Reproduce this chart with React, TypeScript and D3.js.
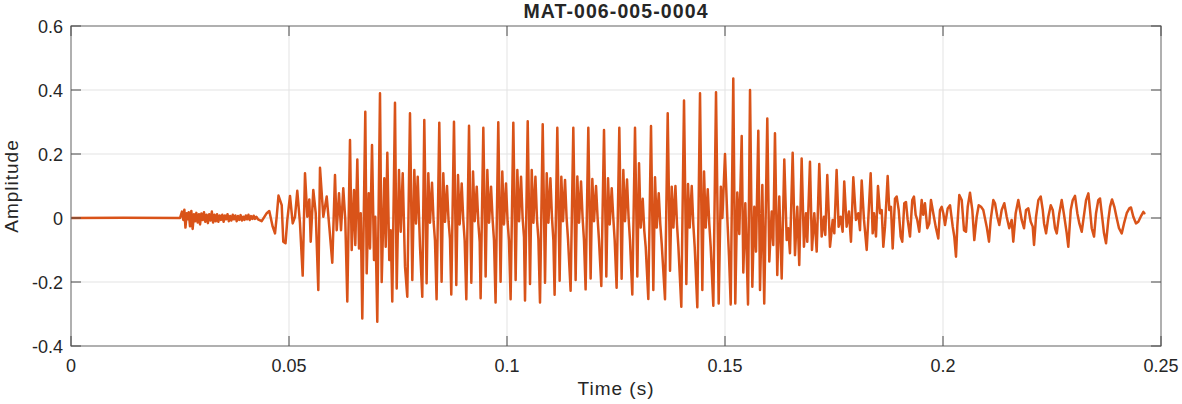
import React from 'react';
import * as d3 from 'd3';

// ---- axis ticks ----
const xTicks = [0, 0.05, 0.1, 0.15, 0.2, 0.25];
const xTickLabels = ['0', '0.05', '0.1', '0.15', '0.2', '0.25'];
const yTicks = [-0.4, -0.2, 0, 0.2, 0.4, 0.6];
const yTickLabels = ['-0.4', '-0.2', '0', '0.2', '0.4', '0.6'];

const titleText = 'MAT-006-005-0004';
const xLabelText = 'Time (s)';
const yLabelText = 'Amplitude';

// ---- waveform vertices: [time (ms), amplitude] ----
const silence: [number, number][] = [
  [0, 0], [12.0, 0.0005], [25.0, 0],
];

const onsetNoise: [number, number][] = [
  [25.45, 0.02], [25.75, -0.006], [26.0, 0.026], [26.25, -0.03], [26.55, 0.015], [26.8, -0.004],
  [27.0, 0.018], [27.3, -0.026], [27.6, 0.022], [27.9, -0.034], [28.2, 0.012], [28.45, -0.01],
  [28.75, 0.016], [29.05, -0.014], [29.35, 0.012], [29.6, -0.02], [29.9, 0.014], [30.2, -0.006],
  [30.5, 0.018], [30.8, -0.012], [31.1, 0.01], [31.4, -0.016], [31.7, 0.012], [32.0, -0.008],
  [32.3, 0.02], [32.6, -0.014], [32.9, 0.01], [33.2, -0.01], [33.5, 0.012], [33.8, -0.012],
  [34.1, 0.008], [34.4, -0.006], [34.7, 0.01], [35.0, -0.012], [35.3, 0.008], [35.6, -0.004],
  [35.9, 0.012], [36.2, -0.01], [36.5, 0.006], [36.8, -0.008], [37.1, 0.01], [37.4, -0.004],
  [37.7, 0.008], [38.0, -0.01], [38.3, 0.006], [38.6, -0.006], [38.9, 0.009], [39.2, -0.008],
  [39.5, 0.004], [39.8, -0.006], [40.1, 0.008], [40.4, -0.004], [40.7, 0.01], [41.0, -0.006],
  [41.3, 0.006], [41.6, -0.003], [41.9, 0.007], [42.2, -0.003], [42.5, 0.004], [42.89, -0.004],
];

const voiceOnset: [number, number][] = [
  [43.74, -0.01], [44.89, 0.015], [45.48, 0.022], [46.26, -0.027], [46.79, -0.048], [47.18, 0.004],
  [47.59, 0.07], [47.94, 0.056], [48.33, 0.04], [48.69, -0.074], [49.2, -0.079], [49.61, -0.006],
  [50.23, 0.069], [50.85, -0.017], [51.38, 0.004], [51.9, 0.085], [52.52, -0.017], [53.14, -0.18],
  [53.67, 0.14], [54.2, 0.004], [54.66, 0.058], [54.98, -0.074], [55.57, 0.0875], [56.13, 0.015],
  [56.72, -0.225], [57.11, 0.157], [57.87, 0.004], [58.65, 0.067], [59.24, -0.027], [59.93, -0.14],
  [60.55, 0.134], [60.94, -0.038], [61.47, 0.077], [61.93, -0.038], [62.45, 0.093], [62.91, -0.006],
  [63.37, -0.261], [63.99, 0.244], [64.38, -0.1], [64.91, 0.0875], [65.21, -0.084], [65.67, 0.183],
  [66.06, -0.095], [66.45, 0.015], [66.81, -0.314], [67.5, 0.332], [67.82, -0.173], [68.28, 0.077],
  [68.58, -0.095], [69.04, 0.228], [69.5, -0.131], [69.79, 0.004], [70.25, -0.324], [70.87, 0.39],
  [71.26, -0.2], [71.86, 0.124], [72.18, -0.09], [72.55, 0.204], [73.0, -0.131], [73.33, -0.038],
  [73.69, -0.261], [74.31, 0.36], [74.7, -0.22], [75.23, 0.15], [75.62, -0.043], [76.08, 0.14],
  [76.61, -0.152], [77.13, -0.246], [77.75, 0.327], [78.28, -0.194], [78.74, 0.15], [79.13, -0.017],
  [79.52, 0.129], [80.05, -0.09], [80.57, -0.246],
];

const steadyVoice: [number, number][] = [
  [81.03, 0.306], [81.56, -0.204], [81.95, 0.14], [82.34, -0.015], [82.8, 0.11], [83.16, -0.01], [83.48, -0.07], [83.85, -0.254],
  [84.47, 0.298], [85.0, -0.199], [85.39, 0.14], [85.78, -0.012], [86.24, 0.1], [86.6, -0.01], [86.92, -0.065], [87.22, -0.239],
  [87.84, 0.301], [88.37, -0.209], [88.76, 0.134], [89.15, -0.02], [89.61, 0.108], [89.97, -0.005], [90.29, -0.07], [90.67, -0.254],
  [91.29, 0.288], [91.82, -0.202], [92.21, 0.145], [92.6, -0.01], [93.06, 0.098], [93.42, -0.015], [93.74, -0.075], [93.95, -0.251],
  [94.57, 0.282], [95.1, -0.183], [95.49, 0.15], [95.88, -0.015], [96.34, 0.098], [96.7, -0.005], [97.02, -0.07], [97.38, -0.264],
  [98.0, 0.299], [98.53, -0.199], [98.92, 0.145], [99.31, -0.02], [99.77, 0.108], [100.13, -0.01], [100.45, -0.07], [100.83, -0.254],
  [101.45, 0.298], [101.98, -0.194], [102.37, 0.15], [102.76, -0.01], [103.22, 0.129], [103.58, 0.0], [103.9, -0.06], [104.13, -0.258],
  [104.75, 0.302], [105.28, -0.206], [105.67, 0.15], [106.06, -0.015], [106.52, 0.129], [106.88, -0.005], [107.2, -0.065], [107.57, -0.264],
  [108.19, 0.293], [108.72, -0.202], [109.11, 0.14], [109.5, -0.015], [109.96, 0.124], [110.32, 0.0], [110.64, -0.07], [110.92, -0.24],
  [111.54, 0.282], [112.07, -0.196], [112.46, 0.129], [112.85, -0.01], [113.31, 0.119], [113.67, 0.0], [113.99, -0.065], [114.59, -0.227],
  [115.21, 0.282], [115.74, -0.194], [116.13, 0.13], [116.52, -0.015], [116.98, 0.114], [117.34, 0.0], [117.66, -0.07], [118.03, -0.223],
  [118.65, 0.282], [119.18, -0.189], [119.57, 0.122], [119.96, -0.01], [120.42, 0.1], [120.78, 0.0], [121.1, -0.07], [121.63, -0.2125],
  [122.25, 0.275], [122.78, -0.183], [123.17, 0.124], [123.56, -0.02], [124.02, 0.093], [124.38, 0.0], [124.7, -0.07], [125.14, -0.218],
  [125.76, 0.282], [126.29, -0.19], [126.68, 0.15], [127.07, -0.01], [127.53, 0.12], [127.89, 0.0], [128.21, -0.07], [128.74, -0.239],
  [129.36, 0.282], [129.89, -0.183], [130.28, 0.171], [130.67, -0.03], [131.13, 0.06], [131.49, -0.04], [131.81, -0.09], [132.41, -0.253],
  [133.03, 0.2875], [133.56, -0.225], [133.95, 0.127], [134.34, -0.03], [134.8, 0.077], [135.16, -0.02], [135.48, -0.08], [136.24, -0.254],
  [136.86, 0.327], [137.39, -0.165], [137.78, 0.098], [138.17, -0.03], [138.63, 0.1], [138.99, -0.02], [139.31, -0.09], [139.98, -0.277],
  [140.6, 0.367], [141.13, -0.206], [141.52, 0.106], [141.91, -0.03], [142.37, 0.1], [142.73, -0.02], [143.05, -0.09], [143.65, -0.279],
  [144.27, 0.39], [144.8, -0.225], [145.19, 0.145], [145.58, -0.03], [146.04, 0.09], [146.4, -0.02], [146.72, -0.09], [147.32, -0.274],
];

const peakVoice: [number, number][] = [
  [147.94, 0.393], [148.55, -0.267], [149.05, 0.098], [149.4, 0.0], [150.0, 0.2], [150.53, 0.0], [150.92, -0.12], [151.31, -0.27],
  [151.9, 0.436], [152.36, -0.267], [152.82, 0.08], [153.28, -0.05], [153.83, 0.256], [154.2, -0.17], [154.66, 0.046], [155.28, -0.27],
  [155.74, 0.4], [156.27, -0.215], [156.72, 0.035], [157.11, -0.105], [157.64, 0.273], [158.03, -0.225], [158.56, 0.103], [159.0, -0.267],
  [159.7, 0.311], [160.16, -0.136], [160.71, 0.02], [161.07, -0.084], [161.46, 0.265], [161.99, -0.178], [162.45, 0.067], [163.0, -0.189],
  [163.6, 0.183], [164.15, -0.069], [164.51, -0.032], [164.9, -0.11], [165.52, 0.204], [166.05, -0.116], [166.58, 0.035], [167.03, -0.147],
  [167.58, 0.186], [168.11, -0.09], [168.57, 0.015], [168.87, -0.074], [169.49, 0.176], [169.95, -0.1], [170.48, 0.015], [171.03, -0.105],
  [171.62, 0.169], [172.17, -0.058], [172.7, 0.004], [173.0, -0.053], [173.46, 0.134], [174.08, -0.09], [174.7, -0.006], [175.07, -0.048],
  [175.6, 0.15], [176.06, -0.027], [176.52, 0.004], [176.98, -0.043], [177.35, 0.114], [177.9, -0.027], [178.43, 0.02], [178.89, -0.074],
  [179.43, 0.127], [180.04, -0.006], [180.57, 0.015], [180.96, -0.038], [181.35, 0.117], [181.88, -0.006], [182.5, -0.1],
];

const decayTail: [number, number][] = [
  [183.41, 0.14], [183.87, -0.048], [184.17, 0.015], [184.63, -0.058], [185.09, 0.1], [185.55, 0.015], [185.94, 0.025], [186.31, -0.09],
  [186.7, -0.027], [187.31, 0.131], [187.68, 0.025], [188.07, 0.035], [188.46, -0.095], [188.99, 0.06], [189.38, 0.067], [189.84, 0.025],
  [190.3, -0.058], [190.66, -0.074], [191.12, 0.046], [191.51, 0.05], [191.9, -0.006], [192.43, -0.058], [192.95, 0.056], [193.34, 0.067],
  [193.73, 0.01], [194.1, -0.006], [194.56, -0.043], [195.11, 0.056], [195.47, 0.01], [195.86, 0.046], [196.39, -0.032], [196.85, -0.017],
  [197.24, 0.056], [197.77, 0.015], [198.32, -0.027], [198.92, -0.064], [199.31, 0.025], [199.7, 0.035], [200.07, 0.015], [200.46, -0.022],
  [201.08, 0.03], [201.61, 0.04], [202.23, -0.027], [202.59, -0.058], [202.98, -0.121], [203.28, -0.027], [203.74, 0.072], [204.29, 0.056],
  [204.82, -0.038], [205.28, -0.043], [205.67, 0.035], [206.19, 0.079], [206.72, 0.025], [207.18, -0.069], [207.73, 0.004], [208.19, 0.04],
  [208.72, 0.035], [209.24, 0.025], [210.02, -0.027], [210.55, -0.074], [210.94, -0.006], [211.54, 0.056], [211.93, 0.046], [212.45, 0.004],
  [212.91, -0.022], [213.46, 0.025], [214.06, 0.046], [214.61, 0.004], [215.2, -0.032], [215.75, -0.006], [216.12, -0.074], [216.67, 0.015],
  [217.27, 0.056], [218.05, -0.006], [218.58, -0.032], [219.04, 0.025], [219.57, 0.03], [220.12, -0.012], [220.58, -0.027], [220.88, -0.084],
  [221.34, 0.004], [221.87, 0.056], [222.42, 0.067], [222.88, 0.025], [223.18, -0.017], [223.64, -0.048], [224.16, 0.004], [224.71, 0.04],
  [225.17, 0.025], [225.7, -0.032], [226.09, -0.048], [226.68, 0.015], [227.23, 0.056], [227.76, 0.01], [228.38, -0.048], [228.74, -0.09],
  [229.3, 0.025], [229.76, 0.056], [230.28, 0.069], [230.81, 0.015], [231.27, -0.017], [231.82, -0.043], [232.19, -0.006], [232.81, 0.056],
  [233.34, 0.077], [233.72, 0.025], [234.11, -0.032], [234.64, -0.058], [235.1, 0.015], [235.62, 0.056], [236.01, 0.061], [236.4, 0.015],
  [236.93, -0.048], [237.39, -0.079], [237.92, -0.006], [238.31, 0.035], [238.77, 0.058], [239.3, 0.035], [239.85, -0.001], [240.37, -0.032],
  [240.99, -0.048], [241.52, -0.017], [242.14, 0.015], [242.73, 0.03], [243.12, 0.033], [243.65, 0.004], [244.27, -0.017], [244.8, -0.012],
  [245.35, 0.004], [245.96, 0.019], [246.19, 0.015],
];

const W = 1182;
const H = 404;
const plot = { left: 71, right: 1161, top: 26, bottom: 346 };

const FONT = '"Liberation Sans", Arial, Helvetica, sans-serif';
const TEXT = '#262626';
const LINE = '#D95319';

export default function App() {
  const x = d3.scaleLinear().domain([0, 0.25]).range([plot.left, plot.right]);
  const y = d3.scaleLinear().domain([-0.4, 0.6]).range([plot.bottom, plot.top]);

  const signal = [...silence, ...onsetNoise, ...voiceOnset, ...steadyVoice, ...peakVoice, ...decayTail]
    .map(([ms, a]) => ({ t: ms / 1000, a }));

  const line = d3.line<{ t: number; a: number }>()
    .x((d) => x(d.t))
    .y((d) => y(d.a));

  const tickLen = 10;

  return (
    <svg width={W} height={H} style={{ position: 'absolute', left: 0, top: 0, background: '#fff' }}>
      <rect x={0} y={0} width={W} height={H} fill="#ffffff" />
      <defs>
        <clipPath id="plotClip">
          <rect x={plot.left} y={plot.top} width={plot.right - plot.left} height={plot.bottom - plot.top} />
        </clipPath>
      </defs>
      {/* grid */}
      {xTicks.map((t, i) => (
        <line key={'gx' + i} x1={x(t)} x2={x(t)} y1={plot.top} y2={plot.bottom} stroke="#e3e3e3" strokeWidth={1} />
      ))}
      {yTicks.map((t, i) => (
        <line key={'gy' + i} x1={plot.left} x2={plot.right} y1={y(t)} y2={y(t)} stroke="#e3e3e3" strokeWidth={1} />
      ))}
      {/* waveform */}
      <path d={line(signal) || ''} fill="none" stroke={LINE} strokeWidth={2.5} strokeLinejoin="round" strokeLinecap="round" clipPath="url(#plotClip)" />
      {/* box */}
      <rect x={plot.left} y={plot.top} width={plot.right - plot.left} height={plot.bottom - plot.top} fill="none" stroke="#858585" strokeWidth={1.2} />
      {/* ticks */}
      {xTicks.map((t, i) => (
        <g key={'tx' + i}>
          <line x1={x(t)} x2={x(t)} y1={plot.bottom} y2={plot.bottom - tickLen} stroke="#4a4a4a" strokeWidth={1} />
          <line x1={x(t)} x2={x(t)} y1={plot.top} y2={plot.top + tickLen} stroke="#4a4a4a" strokeWidth={1} />
          <text x={x(t)} y={372} textAnchor="middle" fontFamily={FONT} fontSize={18} fill={TEXT}>{xTickLabels[i]}</text>
        </g>
      ))}
      {yTicks.map((t, i) => (
        <g key={'ty' + i}>
          <line x1={plot.left} x2={plot.left + tickLen} y1={y(t)} y2={y(t)} stroke="#4a4a4a" strokeWidth={1} />
          <line x1={plot.right} x2={plot.right - tickLen} y1={y(t)} y2={y(t)} stroke="#4a4a4a" strokeWidth={1} />
          <text x={63} y={y(t) + 6.5} textAnchor="end" fontFamily={FONT} fontSize={18} fill={TEXT}>{yTickLabels[i]}</text>
        </g>
      ))}
      {/* labels */}
      <text x={(plot.left + plot.right) / 2} y={17.5} textAnchor="middle" fontFamily={FONT} fontSize={19.5} fontWeight="bold" letterSpacing={1.1} fill={TEXT}>{titleText}</text>
      <text x={(plot.left + plot.right) / 2} y={395} textAnchor="middle" fontFamily={FONT} fontSize={19} letterSpacing={1} fill={TEXT}>{xLabelText}</text>
      <text transform={`translate(17.5, ${(plot.top + plot.bottom) / 2}) rotate(-90)`} textAnchor="middle" fontFamily={FONT} fontSize={19} letterSpacing={1} fill={TEXT}>{yLabelText}</text>
    </svg>
  );
}
